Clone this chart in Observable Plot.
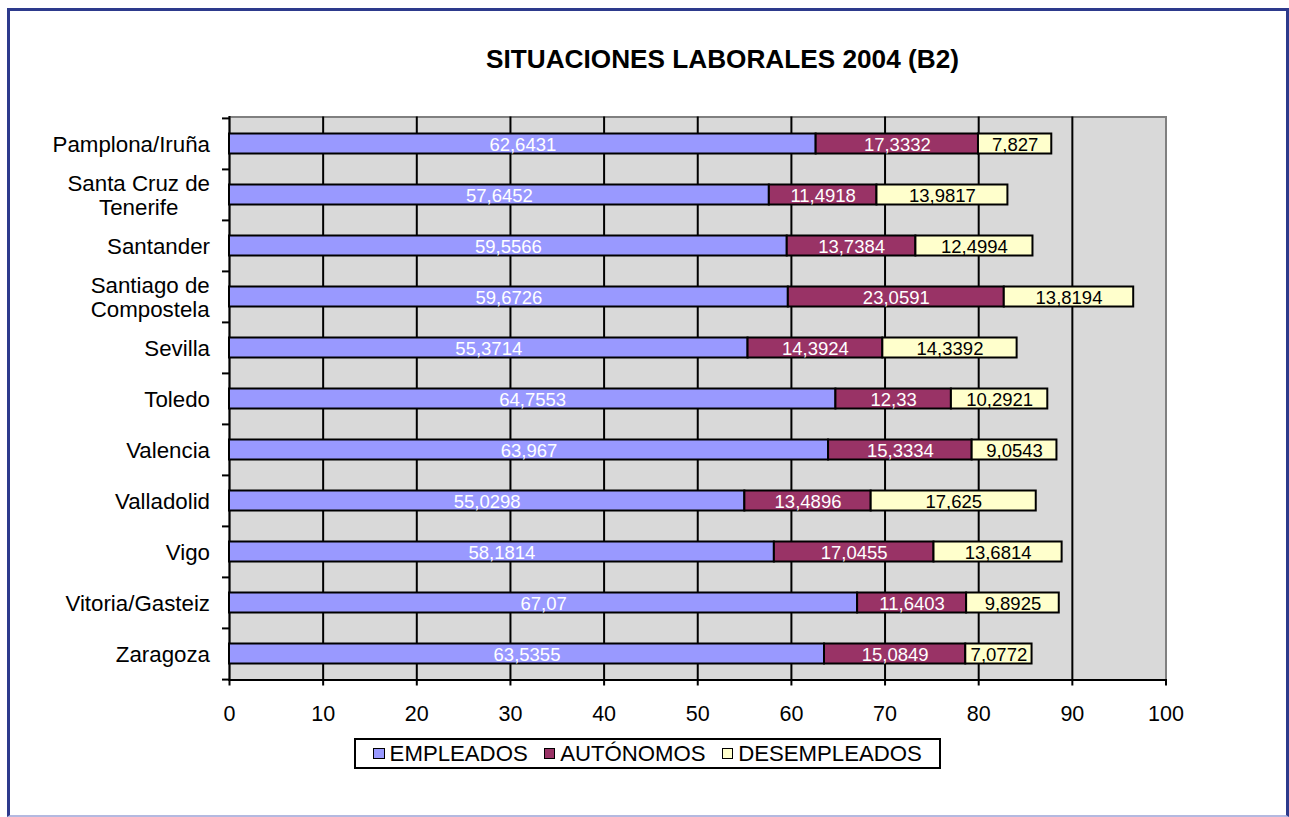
<!DOCTYPE html>
<html>
<head>
<meta charset="utf-8">
<script src="https://cdn.jsdelivr.net/npm/d3@7"></script>
<script src="https://cdn.jsdelivr.net/npm/@observablehq/plot@0.6"></script>
<style>
  html, body { margin: 0; padding: 0; background: #fff; }
  body { font-family: "Liberation Sans", Arial, sans-serif; }
  #page { position: relative; width: 1289px; height: 817px; overflow: hidden; background: #fff; }
  #frame { position: absolute; left: 6.5px; top: 7.5px; width: 1282.5px; height: 809.5px; box-sizing: border-box;
           border-left: 3.5px solid #2d3a8c; border-top: 3.5px solid #2d3a8c; border-right: 3.5px solid #2d3a8c;
           border-bottom: 2px solid #b4b9e0; }
  #title { position: absolute; left: 0; width: 1445px; top: 46px; text-align: center;
           font: bold 26.2px/26px "Liberation Sans", Arial, sans-serif; color: #000; white-space: nowrap; }
  #chart { position: absolute; left: 0; top: 0; }
  #legend { position: absolute; left: 354px; top: 738px; width: 587px; height: 31px; box-sizing: border-box;
            border: 2px solid #000; background: #fff; display: flex; align-items: center; justify-content: center;
            font: 22.2px/1 "Liberation Sans", Arial, sans-serif; color: #000; white-space: nowrap; padding-top: 2px; }
  .item { display: flex; align-items: center; margin: 0 8px; }
  .sw { display: inline-block; width: 11.5px; height: 11.5px; box-sizing: border-box; border: 1.5px solid #000; margin-right: 5px; margin-top: -2px; }
</style>
</head>
<body>
<div id="page">
  <div id="frame"></div>
  <div id="title"></div>
  <div id="chart"></div>
  <div id="legend"></div>
</div>
<script>
// ---- Data ----
const titleText = "SITUACIONES LABORALES 2004 (B2)";
const cities = [
  "Pamplona/Iruña",
  "Santa Cruz de\nTenerife",
  "Santander",
  "Santiago de\nCompostela",
  "Sevilla",
  "Toledo",
  "Valencia",
  "Valladolid",
  "Vigo",
  "Vitoria/Gasteiz",
  "Zaragoza"
];
const series = ["EMPLEADOS", "AUTÓNOMOS", "DESEMPLEADOS"];
const empleados    = [62.6431, 57.6452, 59.5566, 59.6726, 55.3714, 64.7553, 63.967, 55.0298, 58.1814, 67.07, 63.5355];
const autonomos    = [17.3332, 11.4918, 13.7384, 23.0591, 14.3924, 12.33, 15.3334, 13.4896, 17.0455, 11.6403, 15.0849];
const desempleados = [7.827, 13.9817, 12.4994, 13.8194, 14.3392, 10.2921, 9.0543, 17.625, 13.6814, 9.8925, 7.0772];
const xTicks = [0, 10, 20, 30, 40, 50, 60, 70, 80, 90, 100];
const seriesColors = ["#9999ff", "#993366", "#ffffcc"];

// ---- Build table ----
const valuesBySeries = [empleados, autonomos, desempleados];
const data = [];
cities.forEach((city, i) => {
  series.forEach((s, j) => data.push({city, series: s, value: valuesBySeries[j][i]}));
});
const fmt = v => String(v).replace(".", ",");

document.getElementById("title").textContent = titleText;

// ---- Layout ----
const W = 1289, H = 745;
const plotTop = 116.5, plotBottom = 679.5, plotLeft = 229, plotRight = 1165.5;
const bw = (plotBottom - plotTop) / cities.length;
const font = "Liberation Sans, Arial, sans-serif";

const stackOpts = {x: "value", y: "city", z: "series", order: series};

const chart = Plot.plot({
  width: W,
  height: H,
  marginLeft: plotLeft,
  marginRight: W - plotRight,
  marginTop: plotTop,
  marginBottom: H - plotBottom,
  style: {fontFamily: font, fontSize: "21px", color: "#000", background: "transparent", overflow: "visible"},
  x: {domain: [0, 100]},
  y: {domain: cities, padding: 0},
  color: {domain: series, range: seriesColors},
  marks: [
    Plot.frame({fill: "#d9d9d9", stroke: "#808080", strokeWidth: 2}),
    Plot.ruleX(xTicks.filter(t => t > 0 && t < 100), {stroke: "#000", strokeWidth: 2}),
    Plot.frame({anchor: "left", stroke: "#000", strokeWidth: 2}),
    Plot.frame({anchor: "bottom", stroke: "#000", strokeWidth: 2}),
    Plot.axisX({ticks: xTicks, tickSize: 6, tickPadding: 19.5, tickFormat: d => d, label: null,
                stroke: "#000", strokeWidth: 2, fill: "#000", fontSize: 21.5}),
    Plot.axisY({tickSize: 0, tickPadding: 19.5, lineHeight: 1.12, label: null, fontSize: 22.3, fill: "#000"}),
    Plot.ruleY(cities, {y: d => d, x1: -0.75, x2: 0, dy: -bw / 2, stroke: "#000", strokeWidth: 2}),
    Plot.ruleY(cities.slice(-1), {y: d => d, x1: -0.75, x2: 0, dy: bw / 2, stroke: "#000", strokeWidth: 2}),
    Plot.barX(data, Plot.stackX({...stackOpts, fill: "series", stroke: "#000", strokeWidth: 2, insetTop: 15.5, insetBottom: 15.5})),
    Plot.text(data, Plot.filter(d => d.series !== "DESEMPLEADOS",
      Plot.stackX({...stackOpts, text: d => fmt(d.value), fill: "#ffffff", fontSize: 18.5, dy: 1}))),
    Plot.text(data, Plot.filter(d => d.series === "DESEMPLEADOS",
      Plot.stackX({...stackOpts, text: d => fmt(d.value), fill: "#000000", fontSize: 18.5, dy: 1})))
  ]
});
document.getElementById("chart").appendChild(chart);

// Center multi-line category labels within their block (as in the original)
d3.select(chart).selectAll('g[aria-label="y-axis tick label"] text').each(function() {
  const tspans = this.querySelectorAll("tspan");
  if (tspans.length > 1) {
    const w = this.getBBox().width;
    this.setAttribute("text-anchor", "middle");
    tspans.forEach(t => t.setAttribute("x", -w / 2));
  }
});

// ---- Legend ----
const legend = d3.select("#legend");
series.forEach((s, j) => {
  const item = legend.append("div").attr("class", "item");
  item.append("span").attr("class", "sw").style("background", seriesColors[j]);
  item.append("span").text(s);
});
</script>
</body>
</html>
